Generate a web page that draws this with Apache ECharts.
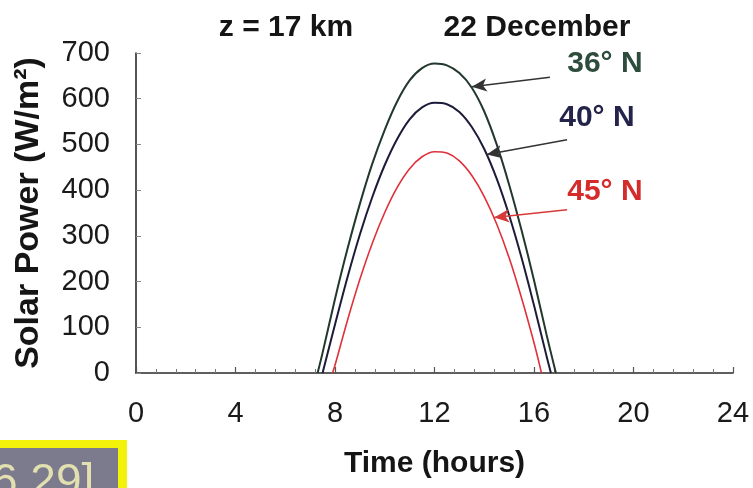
<!DOCTYPE html>
<html>
<head>
<meta charset="utf-8">
<script src="https://cdn.jsdelivr.net/npm/echarts@6/dist/echarts.min.js"></script>
<style>
  html, body { margin: 0; padding: 0; background: #ffffff; }
  #chart { width: 753px; height: 488px; }
</style>
</head>
<body>
<div id="chart"></div>
<script>
// Solar power at z = 17 km on 22 December for three latitudes
const hours36 = [7.3, 7.5, 8, 8.5, 9, 9.5, 10, 10.5, 11, 11.5, 12, 12.5, 13, 13.5, 14, 14.5, 15, 15.5, 16, 16.5, 16.88];
const power36 = [0, 44, 162, 271, 370, 458, 532, 594, 640, 667, 677, 673, 656, 624, 572, 500, 412, 312, 203, 85, 0];

const hours40 = [7.5, 8, 8.5, 9, 9.5, 10, 10.5, 11, 11.5, 12, 12.5, 13, 13.5, 14, 14.5, 15, 15.5, 16, 16.5, 16.68];
const power40 = [0, 106, 209, 303, 385, 455, 512, 555, 581, 591, 588, 571, 538, 490, 425, 345, 252, 148, 38, 0];

const hours45 = [7.9, 8, 8.5, 9, 9.5, 10, 10.5, 11, 11.5, 12, 12.5, 13, 13.5, 14, 14.5, 15, 15.5, 16, 16.3];
const power45 = [0, 17, 115, 205, 284, 351, 406, 447, 473, 484, 481, 464, 432, 386, 326, 252, 164, 66, 0];

const seriesNames = ['36° N', '40° N', '45° N'];
const xTicks = [0, 4, 8, 12, 16, 20, 24];
const yTicks = [0, 100, 200, 300, 400, 500, 600, 700];

// callout text anchors and arrow [from, to] points, in (hours, W/m²)
const labelAnchors = [[18.85, 676], [18.53, 558], [18.85, 396]];
const arrowPaths = [
  [[16.64, 647], [13.5, 626]],
  [[17.33, 510], [14.1, 478]],
  [[17.33, 357], [14.4, 340]]
];

const lineColors = ['#22382c', '#1c1c3a', '#e0303a'];
const labelColors = ['#2e4c3c', '#24244a', '#d42b2b'];
const arrowColors = ['#333333', '#333333', '#d63a3a'];

const FONT = '"Liberation Sans", Arial, Helvetica, sans-serif';

function pairs(xs, ys) { return xs.map((x, i) => [x, ys[i]]); }
const seriesData = [pairs(hours36, power36), pairs(hours40, power40), pairs(hours45, power45)];

const chart = echarts.init(document.getElementById('chart'), null, { renderer: 'canvas' });

const series = seriesData.map((d, i) => ({
  name: seriesNames[i],
  type: 'line',
  data: d,
  smooth: 0.35,
  showSymbol: false,
  silent: true,
  z: 3 - i,
  lineStyle: { color: lineColors[i], width: i === 2 ? 1.6 : 2 },
  markPoint: {
    silent: true,
    symbol: 'circle',
    symbolSize: 0,
    data: [{ name: seriesNames[i], coord: labelAnchors[i] }],
    label: {
      show: true,
      position: 'inside',
      formatter: '{b}',
      fontFamily: FONT,
      fontSize: 30,
      fontWeight: 'bold',
      color: labelColors[i]
    }
  },
  markLine: {
    silent: true,
    symbol: ['none', 'arrow'],
    symbolSize: [10, 15],
    label: { show: false },
    lineStyle: { color: arrowColors[i], width: 1.5, type: 'solid' },
    data: [[{ coord: arrowPaths[i][0] }, { coord: arrowPaths[i][1] }]]
  }
}));

const option = {
  backgroundColor: '#ffffff',
  animation: false,
  title: [
    { text: 'z = 17 km', left: 281, top: 8, textAlign: 'center',
      textStyle: { fontFamily: FONT, fontSize: 30, fontWeight: 'bold', color: '#151515' } },
    { text: '22 December', left: 532, top: 8, textAlign: 'center',
      textStyle: { fontFamily: FONT, fontSize: 30, fontWeight: 'bold', color: '#151515' } }
  ],
  grid: { left: 136, right: 20, top: 53, bottom: 115, containLabel: false },
  xAxis: {
    type: 'value',
    min: xTicks[0],
    max: xTicks[xTicks.length - 1],
    interval: xTicks[1] - xTicks[0],
    name: 'Time (hours)',
    nameLocation: 'middle',
    nameGap: 76,
    nameTextStyle: { fontFamily: FONT, fontSize: 30, fontWeight: 'bold', color: '#151515' },
    axisLine: { show: true, onZero: false, lineStyle: { color: '#2a2a2a', width: 1.6 } },
    axisTick: { show: true, inside: true, length: 6, lineStyle: { color: '#555', width: 1.2 } },
    minorTick: { show: true, splitNumber: 5, length: 4, lineStyle: { color: '#777', width: 1 } },
    axisLabel: { fontFamily: FONT, fontSize: 29, color: '#1a1a1a', margin: 26 },
    splitLine: { show: false }
  },
  yAxis: {
    type: 'value',
    min: yTicks[0],
    max: yTicks[yTicks.length - 1],
    interval: yTicks[1] - yTicks[0],
    name: 'Solar Power (W/m²)',
    nameLocation: 'middle',
    nameRotate: 90,
    nameGap: 90,
    nameTextStyle: { fontFamily: FONT, fontSize: 34, fontWeight: 'bold', color: '#151515' },
    axisLine: { show: true, lineStyle: { color: '#2a2a2a', width: 1.6 } },
    axisTick: { show: true, inside: true, length: 5, lineStyle: { color: '#888', width: 1 } },
    axisLabel: { fontFamily: FONT, fontSize: 29, color: '#1a1a1a', margin: 26 },
    splitLine: { show: false }
  },
  graphic: [
    { type: 'rect', left: 0, top: 440, shape: { width: 127, height: 48 },
      style: { fill: '#f2f20a' }, silent: true },
    { type: 'rect', left: 0, top: 448, shape: { width: 118, height: 40 },
      style: { fill: '#7c7b8e' }, silent: true },
    { type: 'text', left: -8, top: 460,
      style: { text: '6.29]', fontFamily: FONT, fontSize: 46, fill: '#e2dfb0' }, silent: true }
  ],
  series: series
};

chart.setOption(option);
</script>
</body>
</html>
